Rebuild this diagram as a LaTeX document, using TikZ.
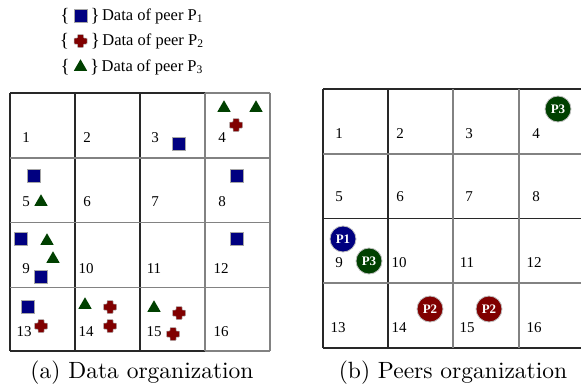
\documentclass[tikz,border=0pt]{standalone}
\usepackage{fontspec}
\newfontfamily\timesf{Liberation Serif}
\newfontfamily\capfont{lmroman10-regular}[Extension=.otf]
\usetikzlibrary{positioning}
\usetikzlibrary{shapes.geometric}

\definecolor{peerone}{RGB}{0,0,128}
\definecolor{peertwo}{RGB}{128,0,0}
\definecolor{peerthree}{RGB}{0,64,0}
\definecolor{darkline}{RGB}{40,40,40}
\definecolor{lightline}{RGB}{130,130,130}

\tikzset{
  cellnum/.style={font=\timesf\fontsize{15}{15}\selectfont, inner sep=0pt},
  sqmark/.style={rectangle, fill=peerone, draw=gray!70, line width=0.6pt, minimum size=13pt, inner sep=0pt},
  trimark/.style={regular polygon, regular polygon sides=3, fill=peerthree, minimum size=15.5pt, inner sep=0pt},
  plusmark/.style={rectangle, minimum size=14pt, inner sep=0pt, path picture={
      \fill[peertwo, draw=gray!60, line width=0.5pt, rounded corners=0.7pt]
        ([shift={(-6.5pt,-3pt)}]path picture bounding box.center) -- ++(0pt,6pt) -- ++(3.5pt,0pt) -- ++(0pt,3.5pt)
        -- ++(6pt,0pt) -- ++(0pt,-3.5pt) -- ++(3.5pt,0pt) -- ++(0pt,-6pt) -- ++(-3.5pt,0pt) -- ++(0pt,-3.5pt)
        -- ++(-6pt,0pt) -- ++(0pt,3.5pt) -- cycle;}},
  peer/.style={circle, draw=gray!50, line width=0.8pt, minimum size=26pt, inner sep=0pt,
    text=white, font=\timesf\bfseries\fontsize{13}{13}\selectfont},
  legtext/.style={font=\timesf\fontsize{16.5}{16.5}\selectfont, inner sep=0pt},
  legbrace/.style={font=\timesf\fontsize{19}{19}\selectfont, inner sep=0pt},
  caption/.style={font=\capfont\fontsize{23.5}{26}\selectfont, inner sep=0pt}
}

\begin{document}
\begin{tikzpicture}[x=1pt, y=-1pt]
  \useasboundingbox (0,0) rectangle (581,391);

  % Legend
  \node[sqmark] (leg1) at (80.5,16) {};
  \node[legbrace, left=4pt of leg1] (lb1) {\{};
  \node[legbrace, right=3pt of leg1] (rb1) {\}};
  \node[legtext, right=2pt of rb1] (lt1) {Data of peer P\textsubscript{1}};
  \node[plusmark] (leg2) at (80.5,41) {};
  \node[legbrace, left=4pt of leg2] (lb2) {\{};
  \node[legbrace, right=3pt of leg2] (rb2) {\}};
  \node[legtext, right=2pt of rb2] (lt2) {Data of peer P\textsubscript{2}};
  \node[trimark] (leg3) at (80.5,67) {};
  \node[legbrace, left=10.5pt of leg3.center] (lb3) {\{};
  \node[legbrace, right=9.5pt of leg3.center] (rb3) {\}};
  \node[legtext, right=2pt of rb3] (lt3) {Data of peer P\textsubscript{3}};

  % Grid (a)
  \draw[darkline, line width=1.2pt] (10,93) -- (205,93) (10,351) -- (205,351);
  \draw[lightline, line width=1.2pt] (205,93) -- (270,93) (205,351) -- (270,351);
  \draw[darkline, line width=1.2pt] (10,93) -- (10,351) (75,93) -- (75,351) (140,93) -- (140,351);
  \draw[lightline, line width=1.2pt] (205,93) -- (205,351) (270,93) -- (270,351);
  \draw[lightline, line width=1.2pt] (10,158) -- (270,158) (10,222.5) -- (270,222.5) (10,287.5) -- (270,287.5);

  % Cell numbers (a)
  \node[cellnum] (a1) at (26,138) {1};
  \node[cellnum] (a2) at (87,138) {2};
  \node[cellnum] (a3) at (155,138) {3};
  \node[cellnum] (a4) at (222,138) {4};
  \node[cellnum] (a5) at (26,202) {5};
  \node[cellnum] (a6) at (87,202) {6};
  \node[cellnum] (a7) at (155,202) {7};
  \node[cellnum] (a8) at (222,202) {8};
  \node[cellnum] (a9) at (26,269) {9};
  \node[cellnum] (a10) at (86,269) {10};
  \node[cellnum] (a11) at (154,269) {11};
  \node[cellnum] (a12) at (221,269) {12};
  \node[cellnum] (a13) at (24,332) {13};
  \node[cellnum] (a14) at (86,332) {14};
  \node[cellnum] (a15) at (154,332) {15};
  \node[cellnum] (a16) at (221,332) {16};

  % Data items (a)
  \node[sqmark] (sq3) at (179,144) {};
  \node[trimark] (tri4a) at (224,108) {};
  \node[trimark] (tri4b) at (256,108) {};
  \node[plusmark] (pl4) at (236,125) {};
  \node[sqmark] (sq5) at (34,176) {};
  \node[trimark] (tri5) at (41,202) {};
  \node[sqmark] (sq8) at (237,176) {};
  \node[sqmark] (sq9a) at (21,239) {};
  \node[trimark] (tri9a) at (47,241) {};
  \node[trimark] (tri9b) at (53,259) {};
  \node[sqmark] (sq9b) at (41,277) {};
  \node[sqmark] (sq12) at (237,239) {};
  \node[sqmark] (sq13) at (28,307) {};
  \node[plusmark] (pl13) at (41,326) {};
  \node[trimark] (tri14) at (85,305) {};
  \node[plusmark] (pl14a) at (110,307) {};
  \node[plusmark] (pl14b) at (110,326) {};
  \node[trimark] (tri15) at (154,308) {};
  \node[plusmark] (pl15a) at (179,313) {};
  \node[plusmark] (pl15b) at (173,334) {};

  % Grid (b)
  \draw[darkline, line width=1.2pt] (323,89) -- (584,89) (323,348) -- (584,348) (323,218.5) -- (584,218.5);
  \draw[darkline, line width=1.2pt] (323,89) -- (323,348) (388,89) -- (388,348);
  \draw[lightline, line width=1.2pt] (453,89) -- (453,348) (519,89) -- (519,348);
  \draw[lightline, line width=1.2pt] (323,154) -- (584,154) (323,283) -- (584,283);

  % Cell numbers (b)
  \node[cellnum] (b1) at (339,134) {1};
  \node[cellnum] (b2) at (400,134) {2};
  \node[cellnum] (b3) at (469,134) {3};
  \node[cellnum] (b4) at (536,134) {4};
  \node[cellnum] (b5) at (339,197) {5};
  \node[cellnum] (b6) at (400,197) {6};
  \node[cellnum] (b7) at (469,197) {7};
  \node[cellnum] (b8) at (536,197) {8};
  \node[cellnum] (b9) at (339,263) {9};
  \node[cellnum] (b10) at (399,263) {10};
  \node[cellnum] (b11) at (467,263) {11};
  \node[cellnum] (b12) at (534,263) {12};
  \node[cellnum] (b13) at (338,328) {13};
  \node[cellnum] (b14) at (399,328) {14};
  \node[cellnum] (b15) at (467,328) {15};
  \node[cellnum] (b16) at (534,328) {16};

  % Peers (b)
  \node[peer, fill=peerthree] (p3a) at (558,109) {P3};
  \node[peer, fill=peerone] (p1) at (343,239) {P1};
  \node[peer, fill=peerthree] (p3b) at (369,261) {P3};
  \node[peer, fill=peertwo] (p2a) at (430,309) {P2};
  \node[peer, fill=peertwo] (p2b) at (489,309) {P2};

  % Captions
  \node[caption] (capa) at (142,373) {(a) Data organization};
  \node[caption] (capb) at (453,373) {(b) Peers organization};

\end{tikzpicture}
\end{document}
